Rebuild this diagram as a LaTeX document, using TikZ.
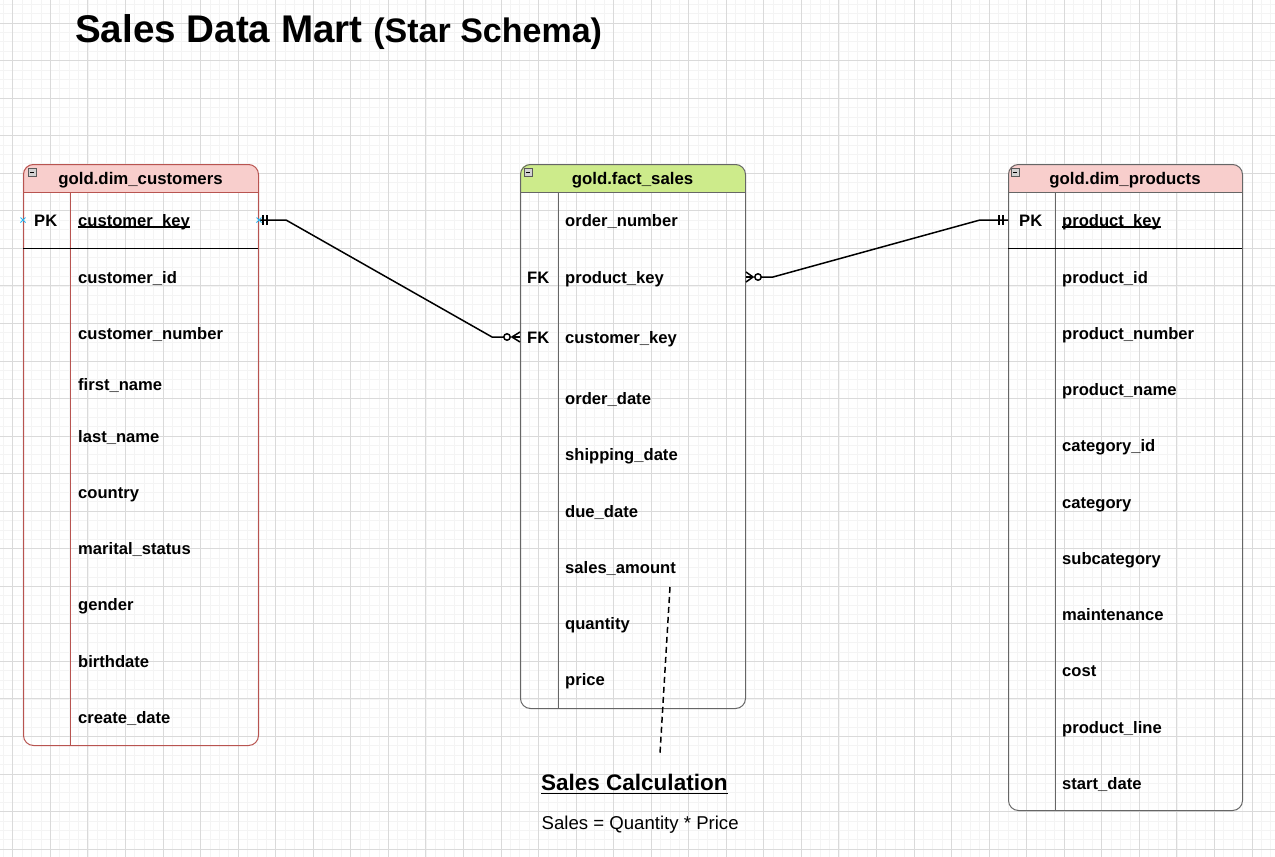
\documentclass[tikz,border=0pt]{standalone}
\usepackage{fontspec}
\setmainfont{Liberation Sans}
\usetikzlibrary{calc}
\definecolor{gridmajor}{HTML}{DADADA}
\definecolor{gridminor}{HTML}{F4F4F4}
\definecolor{redstroke}{HTML}{B85450}
\definecolor{redfill}{HTML}{F8CECC}
\definecolor{greenfill}{HTML}{CDEB8B}
\definecolor{graystroke}{HTML}{666666}
\definecolor{cyanmark}{HTML}{29B6F2}
\begin{document}
\begin{tikzpicture}[x=1pt,y=-1pt,
  field/.style={inner sep=0pt, text height=12pt, text depth=0pt, font=\fontsize{16.6}{20}\selectfont\bfseries, anchor=west},
  hdr/.style={inner sep=0pt, text height=12pt, text depth=0pt, font=\fontsize{16.8}{20}\selectfont\bfseries},
  tbl/.style={draw, rounded corners=10pt, line width=1pt, anchor=north west, inner sep=0pt},
  conn/.style={line width=1.5pt, black},
  ermark/.style={line width=1.5pt, black},
  collapse/.style={fill=gray!35, draw=gray!70!black, line width=0.6pt},
  cyanx/.style={cyanmark, line width=1pt}
]
\useasboundingbox (0,0) rectangle (1275,857);
\fill[white] (0,0) rectangle (1275,857);
% grid
\begin{scope}
\clip (0,0) rectangle (1275,857);
\foreach \i in {0,...,140} \draw[gridminor, line width=0.7pt] ({-24.75+\i*9.3875},0) -- ({-24.75+\i*9.3875},857);
\foreach \i in {0,...,95} \draw[gridminor, line width=0.7pt] (0,{-14.55+\i*9.3875}) -- (1275,{-14.55+\i*9.3875});
\foreach \i in {0,...,35} \draw[gridmajor, line width=0.9pt] ({-24.75+\i*37.55},0) -- ({-24.75+\i*37.55},857);
\foreach \i in {0,...,24} \draw[gridmajor, line width=0.9pt] (0,{-14.55+\i*37.55}) -- (1275,{-14.55+\i*37.55});
\end{scope}

% title
\node[inner sep=0pt, anchor=base west] (title) at (75,42) {\fontsize{38.6}{40}\selectfont\bfseries Sales Data Mart {\fontsize{34}{36}\selectfont (Star Schema)}};

% header fills
\begin{scope}
\clip (23,164) rectangle (258,192);
\fill[redfill, rounded corners=10pt] (23,164) rectangle (258,745);
\end{scope}
\begin{scope}
\clip (520,164) rectangle (745,192);
\fill[greenfill, rounded corners=10pt] (520,164) rectangle (745,708);
\end{scope}
\begin{scope}
\clip (1008,164) rectangle (1242,192);
\fill[redfill, rounded corners=10pt] (1008,164) rectangle (1242,810);
\end{scope}

% table frames
\node[tbl, draw=redstroke, minimum width=235pt, minimum height=581pt] (cust) at (23,164) {};
\node[tbl, draw=graystroke, minimum width=225pt, minimum height=544pt] (fact) at (520,164) {};
\node[tbl, draw=graystroke, minimum width=234pt, minimum height=646pt] (prod) at (1008,164) {};

% header lines and dividers
\draw[redstroke, line width=1pt] (23,192) -- (258,192);
\draw[redstroke, line width=1pt] (70,192) -- (70,745);
\draw[black, line width=1pt] (23,248) -- (258,248);
\draw[graystroke, line width=1pt] (520,192) -- (745,192);
\draw[graystroke, line width=1pt] (558,192) -- (558,708);
\draw[graystroke, line width=1pt] (1008,192) -- (1242,192);
\draw[graystroke, line width=1pt] (1055,192) -- (1055,810);
\draw[black, line width=1pt] (1008,248) -- (1242,248);

% collapse icons
\draw[collapse] (28,168) rectangle (36,176); \draw[line width=0.8pt] (29.8,172) -- (34.2,172);
\draw[collapse] (524,168) rectangle (532,176); \draw[line width=0.8pt] (525.8,172) -- (530.2,172);
\draw[collapse] (1011,168) rectangle (1019,176); \draw[line width=0.8pt] (1012.8,172) -- (1017.2,172);

% headers
\node[hdr] (hcust) at (140.5,178) {gold.dim\_customers};
\node[hdr] (hfact) at (632.5,178) {gold.fact\_sales};
\node[hdr] (hprod) at (1125,178) {gold.dim\_products};

% customers rows
\node[field] (cpk) at (34,220) {PK};
\node[field] (ckey) at (78,220) {customer\_key};
\draw[line width=1.2pt] ($(ckey.west)+(0,7)$) -- ($(ckey.east)+(0,7)$);
\node[field] (c2) at (78,277) {customer\_id};
\node[field] (c3) at (78,333) {customer\_number};
\node[field] (c4) at (78,384) {first\_name};
\node[field] (c5) at (78,436) {last\_name};
\node[field] (c6) at (78,492) {country};
\node[field] (c7) at (78,548) {marital\_status};
\node[field] (c8) at (78,604) {gender};
\node[field] (c9) at (78,661) {birthdate};
\node[field] (c10) at (78,717) {create\_date};

% fact rows
\node[field] (f1) at (565,220) {order\_number};
\node[field] (fpkfk) at (527,277) {FK};
\node[field] (fpk) at (565,277) {product\_key};
\node[field] (fckfk) at (527,337) {FK};
\node[field] (fck) at (565,337) {customer\_key};
\node[field] (f4) at (565,398) {order\_date};
\node[field] (f5) at (565,454) {shipping\_date};
\node[field] (f6) at (565,511) {due\_date};
\node[field] (f7) at (565,567) {sales\_amount};
\node[field] (f8) at (565,623) {quantity};
\node[field] (f9) at (565,679) {price};

% products rows
\node[field] (ppk) at (1019,220) {PK};
\node[field] (pkey) at (1062,220) {product\_key};
\draw[line width=1.2pt] ($(pkey.west)+(0,7)$) -- ($(pkey.east)+(0,7)$);
\node[field] (p2) at (1062,277) {product\_id};
\node[field] (p3) at (1062,333) {product\_number};
\node[field] (p4) at (1062,389) {product\_name};
\node[field] (p5) at (1062,445) {category\_id};
\node[field] (p6) at (1062,502) {category};
\node[field] (p7) at (1062,558) {subcategory};
\node[field] (p8) at (1062,614) {maintenance};
\node[field] (p9) at (1062,670) {cost};
\node[field] (p10) at (1062,727) {product\_line};
\node[field] (p11) at (1062,783) {start\_date};

% connector customers -> fact
\coordinate (a1) at (cust.east |- ckey);
\coordinate (a2) at (fact.west |- fck);
\draw[conn] (a1) -- ++(27,0) -- ($(a2)+(-28,0)$) -- ($(a2)+(-16,0)$);
\draw[ermark] ($(a1)+(4,-5)$) -- ($(a1)+(4,5)$);
\draw[ermark] ($(a1)+(8,-5)$) -- ($(a1)+(8,5)$);
\draw[ermark] ($(a2)+(0,-5)$) -- ($(a2)+(-8,0)$) -- ($(a2)+(0,5)$);
\draw[ermark] ($(a2)+(-8,0)$) -- (a2);
\draw[ermark, fill=white] ($(a2)+(-13,0)$) circle (3.2);

% connector fact -> products
\coordinate (b1) at (fact.east |- fpk);
\coordinate (b2) at (prod.west |- pkey);
\draw[conn] ($(b1)+(15,0)$) -- ++(12,0) -- ($(b2)+(-28,0)$) -- (b2);
\draw[ermark] ($(b1)+(0,-5)$) -- ($(b1)+(7,0)$) -- ($(b1)+(0,5)$);
\draw[ermark] (b1) -- ($(b1)+(7,0)$);
\draw[ermark, fill=white] ($(b1)+(12,0)$) circle (3.2);
\draw[ermark] ($(b2)+(-9,-5)$) -- ($(b2)+(-9,5)$);
\draw[ermark] ($(b2)+(-5,-5)$) -- ($(b2)+(-5,5)$);

% cyan connection marks
\draw[cyanx] ($(cust.west |- ckey)+(-2.5,-2.5)$) -- ++(5,5) ++(-5,0) -- ++(5,-5);
\draw[cyanx] ($(a1)+(-2.5,-2.5)$) -- ++(5,5) ++(-5,0) -- ++(5,-5);

% sales calculation note
\node[inner sep=0pt, anchor=base west] (calc) at (541,790) {\fontsize{22.5}{26}\selectfont\bfseries Sales Calculation};
\draw[line width=1.8pt] ($(calc.base west)+(0,3.5)$) -- ($(calc.base east)+(0,3.5)$);
\node[inner sep=0pt, anchor=base west] (formula) at (541.5,829.5) {\fontsize{18.6}{22}\selectfont Sales = Quantity * Price};
\coordinate (d1) at (670,587);
\draw[line width=1.5pt, dash pattern=on 6pt off 4pt] (d1) -- ($(calc.north west)+(119,-20)$);
\end{tikzpicture}
\end{document}
